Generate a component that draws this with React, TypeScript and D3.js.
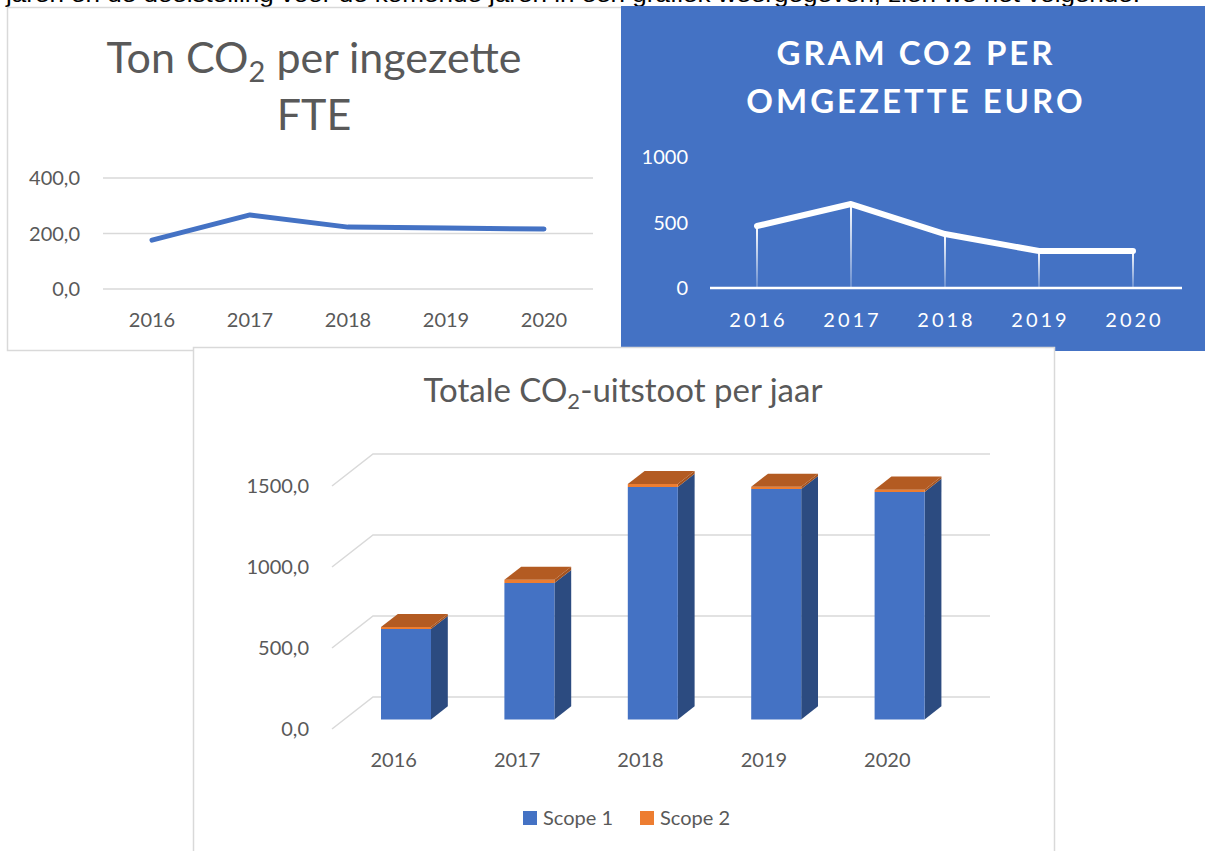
import * as d3 from "d3";

// data
const years = ["2016", "2017", "2018", "2019", "2020"];
const tonPerFte = [176, 267, 223, 220, 216];
const gramPerEuro = [473, 641, 412, 282, 282];
const scope1 = [558, 842, 1435, 1422, 1404];
const scope2 = [12, 20, 18, 14, 14];
const fteTicks = [0, 200, 400];
const euroTicks = [0, 500, 1000];
const totalTicks = [0, 500, 1000, 1500];
const legendItems = ["Scope 1", "Scope 2"];

const W = 1205;
const H = 851;
const FONT = "Lato, 'Open Sans', sans-serif";
const GREY = "#595959";
const GRID = "#d9d9d9";
const BLUE = "#4472C4";
const ORANGE = "#ED7D31";

const fmt = (v: number) => d3.format(".1f")(v).replace(".", ",");

function FteChart() {
  const x = d3.scaleBand().domain(years).range([103, 593]);
  const y = d3.scaleLinear().domain([0, 400]).range([289, 178]);
  const bw = x.bandwidth();
  const line = d3
    .line<number>()
    .x((_, i) => (x(years[i]) || 0) + bw / 2)
    .y((d) => y(d));
  return (
    <g>
      <rect x={7.5} y={7.5} width={620} height={343} fill="#fff" stroke={GRID} strokeWidth={1.5} />
      <text x={314} y={73} textAnchor="middle" fontSize={43} fill={GREY} fontFamily={FONT}>
        Ton CO
        <tspan dy={9} fontSize={29}>2</tspan>
        <tspan dy={-9}> per ingezette</tspan>
      </text>
      <text x={314} y={130} textAnchor="middle" fontSize={43} fill={GREY} fontFamily={FONT}>
        FTE
      </text>
      {fteTicks.map((t) => (
        <g key={t}>
          <line x1={103} x2={593} y1={y(t)} y2={y(t)} stroke={GRID} strokeWidth={1.5} />
          <text x={80} y={y(t) + 7} textAnchor="end" fontSize={20} fill={GREY} fontFamily={FONT}>
            {fmt(t)}
          </text>
        </g>
      ))}
      {years.map((yr) => (
        <text key={yr} x={(x(yr) || 0) + bw / 2} y={327} textAnchor="middle" fontSize={20} fill={GREY} fontFamily={FONT}>
          {yr}
        </text>
      ))}
      <path d={line(tonPerFte) || ""} fill="none" stroke={BLUE} strokeWidth={5} strokeLinecap="round" strokeLinejoin="round" />
    </g>
  );
}

function EuroChart() {
  const x = d3.scaleBand().domain(years).range([710, 1180]);
  const y = d3.scaleLinear().domain([0, 1000]).range([288, 157]);
  const bw = x.bandwidth();
  const cx = (i: number) => (x(years[i]) || 0) + bw / 2;
  const line = d3
    .line<number>()
    .x((_, i) => cx(i))
    .y((d) => y(d));
  return (
    <g>
      <defs>
        <linearGradient id="drop" x1="0" y1="0" x2="0" y2="1">
          <stop offset="0" stopColor="#fff" stopOpacity={1} />
          <stop offset="1" stopColor="#fff" stopOpacity={0.2} />
        </linearGradient>
      </defs>
      <rect x={621} y={6} width={584} height={345} fill={BLUE} />
      <text x={916} y={65} textAnchor="middle" fontSize={33} fontWeight="bold" fill="#fff" fontFamily={FONT} letterSpacing={3}>
        GRAM CO2 PER
      </text>
      <text x={916} y={113} textAnchor="middle" fontSize={33} fontWeight="bold" fill="#fff" fontFamily={FONT} letterSpacing={3}>
        OMGEZETTE EURO
      </text>
      {euroTicks.map((t) => (
        <text key={t} x={688} y={y(t) + 7} textAnchor="end" fontSize={20} fill="#fff" fontFamily={FONT}>
          {t}
        </text>
      ))}
      {gramPerEuro.map((v, i) => (
        <rect key={i} x={cx(i) - 1} y={y(v)} width={2} height={y(0) - y(v)} fill="url(#drop)" />
      ))}
      <line x1={710} x2={1182} y1={y(0)} y2={y(0)} stroke="#fff" strokeWidth={2.5} />
      {years.map((yr, i) => (
        <text key={yr} x={cx(i) + 1.5} y={327} textAnchor="middle" fontSize={20} fill="#fff" fontFamily={FONT} letterSpacing={3}>
          {yr}
        </text>
      ))}
      <path d={line(gramPerEuro) || ""} fill="none" stroke="#fff" strokeWidth={6} strokeLinecap="round" strokeLinejoin="round" />
    </g>
  );
}

function TotalChart() {
  const x = d3.scaleBand().domain(years).range([332, 949]);
  const y = d3.scaleLinear().domain([0, 1500]).range([729, 486]);
  const DX = 41;
  const DY = -32;
  const d0 = 0.3;
  const d1 = 0.71;
  const barW = 50;
  const bw = x.bandwidth();
  const p = (xx: number, v: number, d: number) => `${xx + d * DX},${y(v) + d * DY}`;

  const bars = years.map((yr, i) => {
    const xl = (x(yr) || 0) + (bw - barW) / 2;
    const xr = xl + barW;
    const segs = [
      { v0: 0, v1: scope1[i], front: BLUE, side: "#2c4b80", top: "#3a64ad" },
      { v0: scope1[i], v1: scope1[i] + scope2[i], front: ORANGE, side: "#a4521e", top: "#b35b22" },
    ];
    return (
      <g key={yr}>
        {segs.map((s, j) => (
          <g key={j}>
            <polygon points={[p(xr, s.v0, d0), p(xr, s.v0, d1), p(xr, s.v1, d1), p(xr, s.v1, d0)].join(" ")} fill={s.side} />
            <polygon points={[p(xl, s.v0, d0), p(xr, s.v0, d0), p(xr, s.v1, d0), p(xl, s.v1, d0)].join(" ")} fill={s.front} />
            {j === segs.length - 1 && (
              <polygon points={[p(xl, s.v1, d0), p(xr, s.v1, d0), p(xr, s.v1, d1), p(xl, s.v1, d1)].join(" ")} fill={s.top} />
            )}
          </g>
        ))}
      </g>
    );
  });

  return (
    <g>
      <rect x={193.5} y={347.5} width={861} height={520} fill="#fff" stroke={GRID} strokeWidth={1.5} />
      <text x={623} y={402} textAnchor="middle" fontSize={33} fill={GREY} fontFamily={FONT}>
        Totale CO
        <tspan dy={7} fontSize={22}>2</tspan>
        <tspan dy={-7}>-uitstoot per jaar</tspan>
      </text>
      {totalTicks.map((t) => (
        <g key={t}>
          <polyline
            points={`332,${y(t)} ${332 + DX},${y(t) + DY} ${949 + DX},${y(t) + DY}`}
            fill="none"
            stroke={GRID}
            strokeWidth={1.5}
          />
          <text x={309} y={y(t) + 7} textAnchor="end" fontSize={20} fill={GREY} fontFamily={FONT}>
            {fmt(t)}
          </text>
        </g>
      ))}
      {bars}
      {years.map((yr) => (
        <text key={yr} x={(x(yr) || 0) + bw / 2} y={767} textAnchor="middle" fontSize={20} fill={GREY} fontFamily={FONT}>
          {yr}
        </text>
      ))}
      {legendItems.map((name, i) => (
        <g key={name} transform={`translate(${523 + i * 117},811)`}>
          <rect width={14} height={14} fill={i === 0 ? BLUE : ORANGE} />
          <text x={20} y={14} fontSize={20} fill={GREY} fontFamily={FONT}>
            {name}
          </text>
        </g>
      ))}
    </g>
  );
}

export default function App() {
  return (
    <svg
      width={W}
      height={H}
      viewBox={`0 0 ${W} ${H}`}
      style={{ position: "absolute", left: 0, top: 0, background: "#fff" }}
    >
      {/* sentence above the charts, cut off by the top edge as in the source */}
      <text x={6} y={2} fontSize={22} fill="#000" fontFamily="'Liberation Sans', Arial, sans-serif" textLength={1134} lengthAdjust="spacingAndGlyphs">
        jaren en de doelstelling voor de komende jaren in een grafiek weergegeven, zien we het volgende:
      </text>
      <FteChart />
      <EuroChart />
      <TotalChart />
    </svg>
  );
}
